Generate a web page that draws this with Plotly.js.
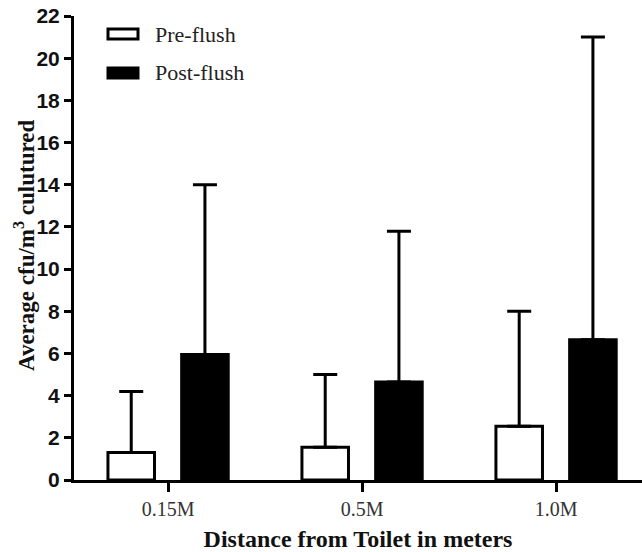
<!DOCTYPE html>
<html>
<head>
<meta charset="utf-8">
<script src="https://cdn.plot.ly/plotly-3.0.1.min.js"></script>
<style>html,body{margin:0;padding:0;background:#fff;}#chart{width:642px;height:552px;}</style>
</head>
<body>
<div id="chart"></div>
<script>
const categories = [0, 1, 2];
const tickLabels = ["0.15M", "0.5M", "1.0M"];
const yTickVals = [0, 2, 4, 6, 8, 10, 12, 14, 16, 18, 20, 22];
const preFlush = [1.3, 1.55, 2.55];
const preFlushTop = [4.2, 5.0, 8.0];
const postFlush = [5.95, 4.65, 6.65];
const postFlushTop = [14.0, 11.8, 21.0];
const seriesNames = ["Pre-flush", "Post-flush"];
const yTitle = "Average cfu/m<sup>3</sup> culutured";
const xTitle = "Distance from Toilet in meters";

const preErr = preFlush.map((v, i) => preFlushTop[i] - v);
const postErr = postFlush.map((v, i) => postFlushTop[i] - v);

const traces = [
  {
    type: "bar", name: seriesNames[0], x: categories, y: preFlush,
    width: 0.24, offset: -0.31,
    marker: {color: "#ffffff", line: {color: "#000000", width: 3}},
    error_y: {type: "data", symmetric: false, array: preErr, arrayminus: preFlush.map(() => 0), color: "#000", thickness: 3, width: 12},
    showlegend: false
  },
  {
    type: "bar", name: seriesNames[1], x: categories, y: postFlush,
    width: 0.24, offset: 0.07,
    marker: {color: "#000000", line: {color: "#000000", width: 3}},
    error_y: {type: "data", symmetric: false, array: postErr, arrayminus: postFlush.map(() => 0), color: "#000", thickness: 3, width: 12},
    showlegend: false
  }
];

const W = 568, H = 464, L = 74, T = 16;
const px = x => (x - L) / W;
const py = y => (T + H - y) / H;
const serif = "Liberation Serif, Times New Roman, serif";

const layout = {
  width: 642, height: 552,
  margin: {l: 74, r: 0, t: 16, b: 72},
  paper_bgcolor: "#fff", plot_bgcolor: "#fff",
  barmode: "overlay",
  showlegend: false,
  xaxis: {
    range: [-0.485, 2.443],
    tickmode: "array", tickvals: categories, ticktext: tickLabels,
    showline: true, linecolor: "#000", linewidth: 3,
    ticks: "outside", ticklen: 9, tickwidth: 3, tickcolor: "#000",
    showgrid: false, zeroline: false,
    tickfont: {family: serif, size: 20, color: "#333"},
    title: {text: "<b>" + xTitle + "</b>", font: {family: serif, size: 24, color: "#111"}, standoff: 12}
  },
  yaxis: {
    range: [0, 22], tickmode: "array", tickvals: yTickVals,
    ticktext: yTickVals.map(String),
    showline: true, linecolor: "#000", linewidth: 3,
    ticks: "outside", ticklen: 7, tickwidth: 3, tickcolor: "#000",
    showgrid: false, zeroline: false,
    tickfont: {family: "Arial", size: 21, color: "#111", weight: 900}
  },
  shapes: [
    {type: "rect", xref: "paper", yref: "paper", x0: px(108), x1: px(138), y0: py(39), y1: py(29), fillcolor: "#fff", line: {color: "#000", width: 3}},
    {type: "rect", xref: "paper", yref: "paper", x0: px(108), x1: px(138), y0: py(78), y1: py(68), fillcolor: "#000", line: {color: "#000", width: 3}}
  ],
  annotations: [
    {xref: "paper", yref: "paper", x: px(153), y: py(34), xanchor: "left", yanchor: "middle", showarrow: false, text: seriesNames[0], font: {family: serif, size: 22, color: "#222"}},
    {xref: "paper", yref: "paper", x: px(153), y: py(73), xanchor: "left", yanchor: "middle", showarrow: false, text: seriesNames[1], font: {family: serif, size: 22, color: "#222"}},
    {xref: "paper", yref: "paper", x: px(24), y: py(246), xanchor: "center", yanchor: "middle", textangle: -90, showarrow: false, text: "<b>" + yTitle + "</b>", font: {family: serif, size: 23, color: "#111"}}
  ]
};

Plotly.newPlot("chart", traces, layout, {staticPlot: true, displayModeBar: false});
</script>
</body>
</html>
